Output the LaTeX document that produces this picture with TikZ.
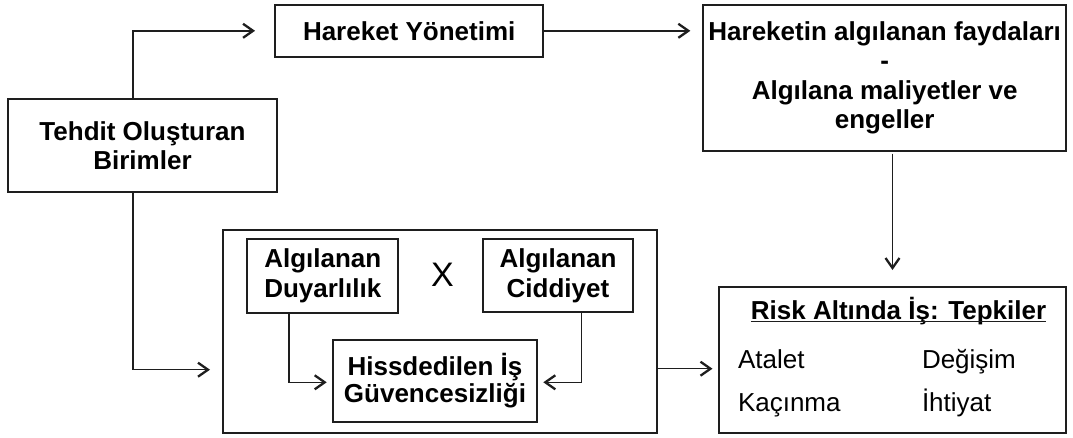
\documentclass[tikz,border=0pt]{standalone}
\usepackage{fontspec}
\setmainfont{Liberation Sans}
\usetikzlibrary{arrows.meta}
\definecolor{lc}{HTML}{1e1e1e}
\begin{document}
\begin{tikzpicture}[x=1pt,y=-1pt,
  box/.style={draw=lc, line width=1.8pt, rectangle, outer sep=0pt, inner sep=2pt, align=center,
    font=\bfseries\fontsize{26}{29.5}\selectfont, text=black},
  arr/.style={draw=lc, line width=1.5pt, -{Straight Barb[length=10pt,width=14pt,line width=2.3pt]}},
  txt/.style={inner sep=0pt, outer sep=0pt, text=black, font=\fontsize{26}{29}\selectfont}]
\useasboundingbox (0,0) rectangle (1073,437);
% outer container
\node[box, minimum width=434.6pt, minimum height=203.3pt] (big) at (440,331.7) {};
% boxes
\node[box, minimum width=268.3pt, minimum height=51.7pt] (hy) at (409.2,30.8) {Hareket Yönetimi};
\node[box, minimum width=268.4pt, minimum height=92.4pt] (te) at (142.5,145.5) {Tehdit Oluşturan\\Birimler};
\node[box, minimum width=362.7pt, minimum height=145.7pt] (fa) at (884.7,77.8)
  {Hareketin algılanan faydaları\\-\\Algılana maliyetler ve\\engeller};
\node[box, minimum width=151pt, minimum height=73.7pt] (du) at (322.8,275.8) {Algılanan\\Duyarlılık};
\node[box, minimum width=150.6pt, minimum height=73.3pt] (ci) at (558,275.7) {Algılanan\\Ciddiyet};
\node[box, font=\bfseries\fontsize{26}{27.5}\selectfont, minimum width=203.4pt, minimum height=81.7pt] (hi) at (435,380.8) {Hissdedilen İş\\Güvencesizliği};
\node[txt, font=\fontsize{34}{36}\selectfont] (x) at (442.5,274.5) {X};
\node[box, minimum width=347pt, minimum height=146pt] (ri) at (892.5,360) {};
% risk box content
\node[txt, font=\bfseries\fontsize{26}{29}\selectfont, anchor=base] (title) at (898.5,319.5) {Risk Altında İş: Tepkiler};
\draw[lc, line width=1.3pt] ([yshift=-2.2pt]title.base west) -- ([yshift=-2.2pt]title.base east);
\node[txt, anchor=base west] (at) at (738,368.3) {Atalet};
\node[txt, anchor=base west] (de) at (922,368.3) {Değişim};
\node[txt, anchor=base west] (ka) at (738,411.7) {Kaçınma};
\node[txt, anchor=base west] (ih) at (922,411.7) {İhtiyat};
% connectors
\draw[arr, shorten >=20pt] ([xshift=-9.5pt]te.north) |- (hy.west);
\draw[arr, shorten >=13pt] (hy.east) -- (hy.east -| fa.west);
\draw[arr, shorten <=3pt, shorten >=17pt] (fa.south -| ri.north) -- (ri.north);
\draw[arr, shorten >=12.7pt] ([xshift=-9.5pt]te.south) |- ([yshift=-38pt]big.west);
\draw[arr, shorten >=6.5pt] ([yshift=-37pt]big.east) -- ([yshift=-37pt]big.east -| ri.west);
\draw[arr, shorten >=6.6pt] ([xshift=-33.8pt]du.south) |- ([yshift=-1.5pt]hi.west);
\draw[arr, shorten >=6.6pt] ([xshift=23.7pt]ci.south) |- ([yshift=-1.5pt]hi.east);
\end{tikzpicture}
\end{document}
